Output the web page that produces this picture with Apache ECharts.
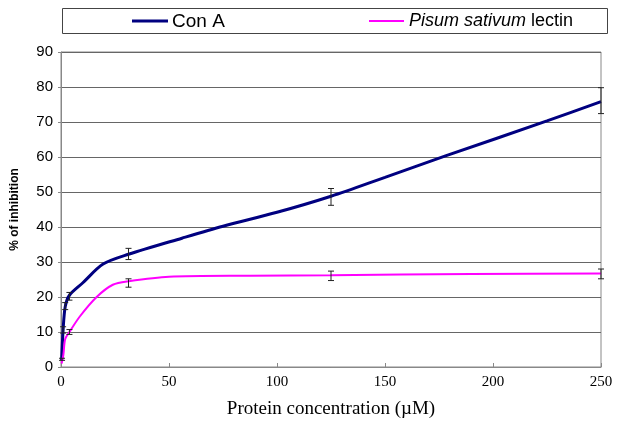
<!DOCTYPE html>
<html>
<head>
<meta charset="utf-8">
<script src="https://cdn.jsdelivr.net/npm/echarts@6/dist/echarts.min.js"></script>
<style>
  html, body { margin: 0; padding: 0; background: #fff; }
  #chart { width: 622px; height: 424px; }
</style>
</head>
<body>
<div id="chart"></div>
<script>
// curve points (x = µM, y = % inhibition)
var conAX = [0.3, 0.98, 1.95, 3.9, 10, 19.5, 31.25, 56, 75, 100, 125, 150, 178, 225, 250];
var conAY = [2, 10.7, 17.2, 20.5, 24, 29.4, 32.2, 36.8, 40.2, 44.2, 48.8, 54.2, 60.3, 70.3, 75.8];
var pisumX = [0.3, 1.1, 1.95, 3.9, 8.8, 16.5, 24, 31.25, 50, 87.5, 125, 190, 250];
var pisumY = [1, 3.5, 8, 10, 14.5, 20, 23.5, 24.5, 25.8, 26.1, 26.2, 26.6, 26.7];

// error bars: x, mean, +/- error
var conAErrX = [0.49, 0.98, 1.95, 3.9, 31.25, 125, 250];
var conAMean = [2.2, 10.6, 17.4, 20.2, 32.3, 48.6, 76.1];
var conAErr = [0.3, 0.9, 1.0, 1.1, 1.6, 2.4, 3.7];
var pisumErrX = [3.9, 31.25, 125, 250];
var pisumMean = [10.0, 24.0, 26.05, 26.6];
var pisumErr = [0.7, 1.2, 1.35, 1.4];

function zip(xs, ys) {
  return xs.map(function (x, i) { return [x, ys[i]]; });
}
function zip3(xs, ms, es) {
  return xs.map(function (x, i) { return [x, ms[i], es[i]]; });
}

function errorBar(params, api) {
  var x = api.value(0), m = api.value(1), e = api.value(2);
  var top = api.coord([x, m + e]);
  var bot = api.coord([x, m - e]);
  var w = 3;
  var style = { stroke: '#222', lineWidth: 1 };
  return {
    type: 'group',
    children: [
      { type: 'line', shape: { x1: top[0], y1: top[1], x2: bot[0], y2: bot[1] }, style: style },
      { type: 'line', shape: { x1: top[0] - w, y1: top[1], x2: top[0] + w, y2: top[1] }, style: style },
      { type: 'line', shape: { x1: bot[0] - w, y1: bot[1], x2: bot[0] + w, y2: bot[1] }, style: style }
    ]
  };
}

var chart = echarts.init(document.getElementById('chart'));
var option = {
  backgroundColor: '#fff',
  animation: false,
  grid: {
    left: 61, right: 21, top: 52, bottom: 53,
    show: true, borderColor: '#888', borderWidth: 1
  },
  xAxis: {
    type: 'value',
    min: 0, max: 250, interval: 50,
    name: 'Protein concentration (µM)',
    nameLocation: 'middle',
    nameGap: 33,
    nameTextStyle: { fontFamily: 'Liberation Serif', fontSize: 19, color: '#000' },
    axisLine: { lineStyle: { color: '#888', width: 1 } },
    axisTick: { inside: true, length: 4, lineStyle: { color: '#888' } },
    axisLabel: { fontFamily: 'Liberation Serif', fontSize: 15, color: '#000', margin: 8 },
    splitLine: { show: false }
  },
  yAxis: {
    type: 'value',
    min: 0, max: 90, interval: 10,
    name: '% of inhibition',
    nameLocation: 'middle',
    nameGap: 40,
    nameRotate: 90,
    nameTextStyle: { fontFamily: 'Liberation Sans', fontSize: 12, fontWeight: 'bold', color: '#000' },
    axisLine: { show: true, lineStyle: { color: '#888', width: 1 } },
    axisTick: { show: true, length: 3, lineStyle: { color: '#888' } },
    axisLabel: { fontFamily: 'Liberation Sans', fontSize: 15, color: '#000', margin: 8 },
    splitLine: { lineStyle: { color: '#666', width: 1.2 } }
  },
  series: [
    {
      name: 'Con A',
      type: 'line',
      data: zip(conAX, conAY),
      smooth: 0.3,
      showSymbol: false,
      lineStyle: { color: '#000080', width: 3 },
      z: 3
    },
    {
      name: 'Pisum sativum lectin',
      type: 'line',
      data: zip(pisumX, pisumY),
      smooth: 0.3,
      showSymbol: false,
      lineStyle: { color: '#ff00ff', width: 2 },
      z: 3
    },
    {
      type: 'custom',
      renderItem: errorBar,
      data: zip3(conAErrX, conAMean, conAErr),
      encode: { x: 0, y: 1 },
      z: 4
    },
    {
      type: 'custom',
      renderItem: errorBar,
      data: zip3(pisumErrX, pisumMean, pisumErr),
      encode: { x: 0, y: 1 },
      z: 4
    }
  ],
  graphic: [
    // legend box
    { type: 'rect', shape: { x: 62.5, y: 8.5, width: 545, height: 25 },
      style: { fill: '#fff', stroke: '#444', lineWidth: 1 } },
    { type: 'line', shape: { x1: 132, y1: 21, x2: 168, y2: 21 },
      style: { stroke: '#000080', lineWidth: 3 } },
    { type: 'text', left: 172, top: 12,
      style: { text: 'Con A', fontFamily: 'Liberation Sans', fontSize: 19, fill: '#000' } },
    { type: 'line', shape: { x1: 369, y1: 21, x2: 404, y2: 21 },
      style: { stroke: '#ff00ff', lineWidth: 2 } },
    { type: 'text', left: 409, top: 12,
      style: {
        text: '{i|Pisum sativum} lectin',
        fontFamily: 'Liberation Sans', fontSize: 18, fill: '#000',
        rich: { i: { fontStyle: 'italic', fontFamily: 'Liberation Sans', fontSize: 18, fill: '#000' } }
      } }
  ]
};
chart.setOption(option);
</script>
</body>
</html>
